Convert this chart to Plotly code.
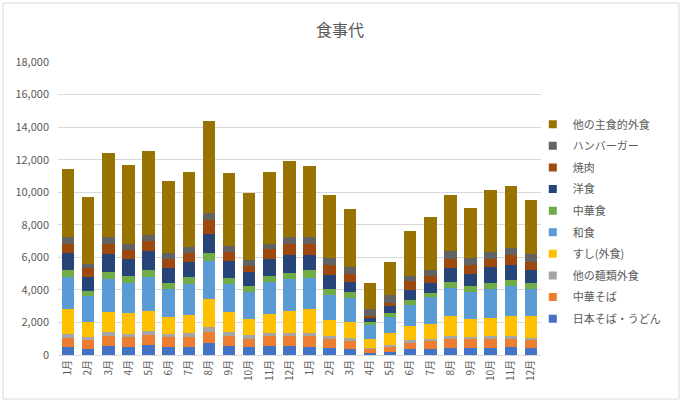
import plotly.graph_objects as go

months = ["1月", "2月", "3月", "4月", "5月", "6月", "7月", "8月", "9月", "10月", "11月", "12月"]
tick_labels = months + months

series_names = ["日本そば・うどん", "中華そば", "他の麺類外食", "すし(外食)", "和食",
                "中華食", "洋食", "焼肉", "ハンバーガー", "他の主食的外食"]

# values, one list per series (bottom to top of each stack)
soba = [490, 390, 550, 510, 590, 510, 510, 710, 550, 490, 530, 530,
        510, 410, 350, 100, 180, 370, 370, 410, 410, 410, 510, 410]
chuka_soba = [570, 510, 630, 590, 610, 570, 590, 720, 610, 490, 610, 610,
              650, 550, 510, 290, 350, 380, 470, 570, 550, 570, 470, 490]
other_noodle = [225, 200, 230, 190, 250, 205, 230, 300, 250, 240, 230, 210,
                170, 180, 160, 60, 80, 170, 160, 180, 160, 160, 180, 160]
sushi = [1555, 940, 1240, 1300, 1280, 1065, 1120, 1680, 1220, 1000, 1120, 1340,
         1510, 1000, 1000, 530, 760, 880, 920, 1230, 1100, 1140, 1230, 1330]
washoku = [1935, 1570, 2000, 1860, 2080, 1690, 1920, 2380, 1760, 1660, 2020, 1960,
           1910, 1550, 1510, 860, 940, 1280, 1630, 1710, 1620, 1760, 1870, 1690]
chukashoku = [445, 350, 450, 410, 410, 390, 400, 450, 360, 340, 370, 410,
              490, 370, 310, 200, 240, 290, 260, 390, 380, 390, 350, 350]
yoshoku = [1020, 810, 1100, 1020, 1140, 940, 940, 1210, 1020, 880, 1040, 1100,
           920, 860, 670, 220, 450, 650, 620, 830, 780, 980, 940, 770]
yakiniku = [590, 550, 610, 550, 660, 530, 550, 830, 530, 350, 590, 670,
            630, 610, 490, 150, 200, 530, 400, 580, 530, 510, 590, 530]
hamburger = [390, 290, 410, 360, 360, 360, 370, 430, 410, 360, 300, 410,
             430, 410, 410, 410, 490, 280, 370, 490, 430, 400, 430, 450]
other_main = [4180, 4080, 5220, 4900, 5150, 4450, 4610, 5670, 4490, 4170, 4430, 4690,
              4410, 3910, 3530, 1590, 2000, 2780, 3290, 3460, 3100, 3790, 3810, 3350]

series_values = [soba, chuka_soba, other_noodle, sushi, washoku,
                 chukashoku, yoshoku, yakiniku, hamburger, other_main]
colors = ["#4472C4", "#ED7D31", "#A5A5A5", "#FFC000", "#5B9BD5",
          "#70AD47", "#264478", "#9E480E", "#636363", "#997300"]

x_pos = list(range(len(tick_labels)))
font_family = "Noto Sans CJK JP, Noto Sans, sans-serif"
grey = "#595959"

fig = go.Figure()
for name, vals, col in zip(series_names, series_values, colors):
    fig.add_trace(go.Bar(x=x_pos, y=vals, name=name, marker_color=col,
                         marker_line_width=0, legendgroup=name, showlegend=False))
# legend entries with small square swatches, top series first
for name, col in reversed(list(zip(series_names, colors))):
    fig.add_trace(go.Scatter(x=[None], y=[None], mode="markers", name=name,
                             marker=dict(symbol="square", size=8, color=col),
                             legendgroup=name, showlegend=True, hoverinfo="skip"))

fig.update_layout(
    barmode="stack",
    bargap=0.38,
    width=683, height=403,
    margin=dict(l=58, r=142, t=62, b=48),
    paper_bgcolor="white", plot_bgcolor="white",
    font=dict(family=font_family, color=grey, size=11),
    title=dict(text="食事代", x=340 / 683, xref="container", xanchor="center",
               y=1 - 30 / 403, yanchor="middle",
               font=dict(size=16, color=grey, family=font_family)),
    legend=dict(traceorder="grouped", x=0.983, xanchor="left", y=0.837, yanchor="top",
                font=dict(size=11, color=grey), itemwidth=30, tracegroupgap=2.6,
                bgcolor="rgba(0,0,0,0)"),
    showlegend=True,
)
fig.update_xaxes(tickmode="array", tickvals=x_pos, ticktext=tick_labels,
                 tickangle=-90, showgrid=False, showline=True, linecolor="#d9d9d9",
                 ticks="", range=[-0.5, len(x_pos) - 0.5],
                 tickfont=dict(size=10, color=grey))
fig.update_yaxes(range=[0, 18000], dtick=2000, tickformat=",d", showgrid=True,
                 gridcolor="#d9d9d9", gridwidth=1, zeroline=False, ticks="",
                 ticklabelstandoff=8, tickfont=dict(size=11, color=grey))

fig.add_shape(type="rect", xref="paper", yref="paper",
              x0=(3 - 58) / 483, x1=(679 - 58) / 483,
              y0=(355 - 399) / 293, y1=(355 - 3) / 293,
              line=dict(color="#d9d9d9", width=1), fillcolor="rgba(0,0,0,0)", layer="below")

fig.write_html("out.html")
